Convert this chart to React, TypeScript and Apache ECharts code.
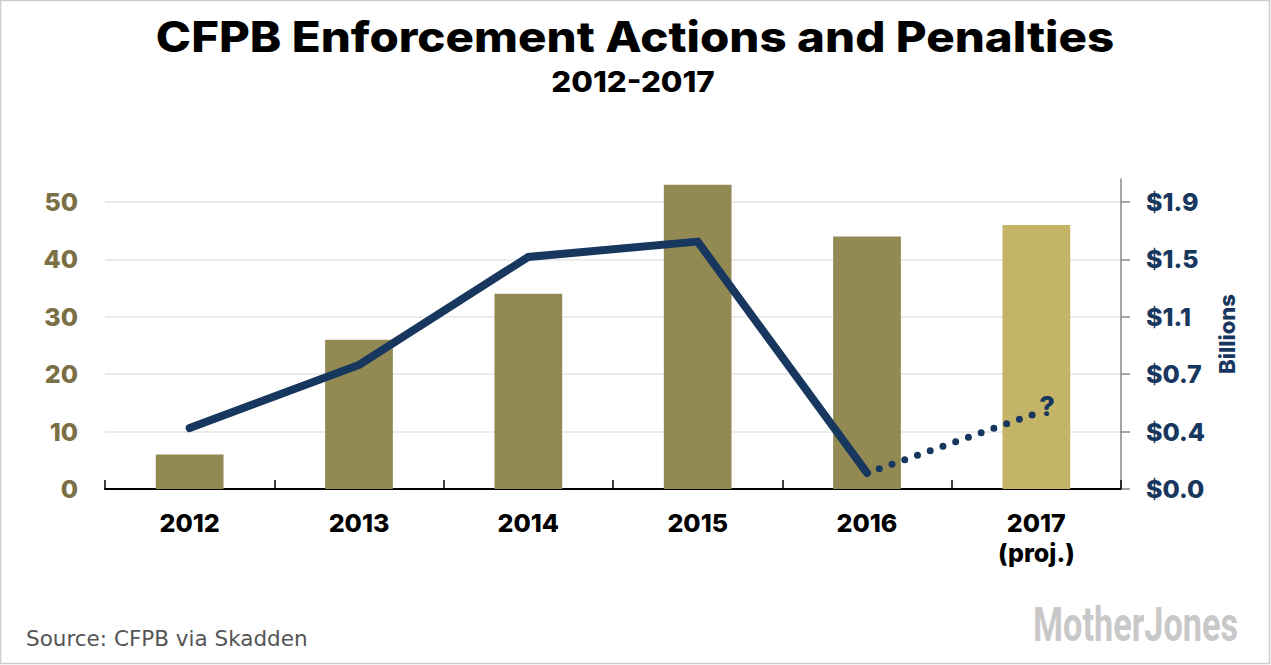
import React, { useEffect, useRef } from "react";
import * as echarts from "echarts";

const categories = ["2012", "2013", "2014", "2015", "2016", "2017\n(proj.)"];
const actions = [6, 26, 34, 53, 44, 46];
const penalties = [0.395, 0.804, 1.504, 1.603, 0.104, null];
const projected = [null, null, null, null, 0.104, 0.49];
const leftTicks = { min: 0, max: 54, interval: 10 };
const rightTicks = { min: 0, max: 2.0088, interval: 0.372 };

const OLIVE = "#938953";
const OLIVE_LIGHT = "#c4b468";
const NAVY = "#17375e";
const FONT = "Inter, Lato, 'Noto Sans', sans-serif";

export default function App() {
  const ref = useRef<HTMLDivElement>(null);
  useEffect(() => {
    if (!ref.current) return;
    const chart = echarts.init(ref.current, undefined, { renderer: "svg" });
    chart.setOption({
      animation: false,
      backgroundColor: "#ffffff",
      grid: { left: 105, right: 150, top: 179, bottom: 176 },
      xAxis: {
        type: "category",
        data: categories,
        axisLine: { show: true, lineStyle: { color: "#000", width: 2 } },
        axisTick: { show: true, inside: true, length: 9, lineStyle: { color: "#000", width: 1.5 } },
        axisLabel: {
          margin: 19,
          fontFamily: FONT,
          fontWeight: 800,
          fontSize: 25,
          color: "#000",
          lineHeight: 30,
        },
      },
      yAxis: [
        {
          type: "value",
          position: "left",
          min: leftTicks.min,
          max: leftTicks.max,
          interval: leftTicks.interval,
          axisLine: { show: false },
          axisTick: { show: false },
          axisLabel: {
            margin: 27,
            showMaxLabel: false,
            fontFamily: FONT,
            fontWeight: 800,
            fontSize: 25,
            color: "#7b6f45",
          },
          splitLine: {
            show: true,
            showMaxLine: false,
            showMinLine: false,
            lineStyle: { color: "#e5e5e5", width: 1.5 },
          },
        },
        {
          type: "value",
          position: "right",
          min: rightTicks.min,
          max: rightTicks.max,
          interval: rightTicks.interval,
          name: "Billions",
          nameLocation: "middle",
          nameRotate: 90,
          nameGap: 95,
          nameTextStyle: { fontFamily: FONT, fontWeight: 800, fontSize: 22, color: NAVY },
          axisLine: { show: true, lineStyle: { color: "#888", width: 1.5 } },
          axisTick: { show: true, inside: false, length: 9, lineStyle: { color: "#888", width: 1.5 } },
          axisLabel: {
            margin: 25,
            showMaxLabel: false,
            fontFamily: FONT,
            fontWeight: 800,
            fontSize: 25,
            color: NAVY,
            formatter: (v: number) => "$" + v.toFixed(1),
          },
          splitLine: { show: false },
        },
      ],
      series: [
        {
          type: "bar",
          yAxisIndex: 0,
          barCategoryGap: "60%",
          data: actions.map((v, i) => ({
            value: v,
            itemStyle: { color: i === actions.length - 1 ? OLIVE_LIGHT : OLIVE },
          })),
          z: 2,
        },
        {
          type: "line",
          yAxisIndex: 1,
          data: penalties,
          showSymbol: false,
          symbol: "none",
          lineStyle: { color: NAVY, width: 8, cap: "round", join: "miter" },
          z: 4,
        },
        {
          type: "line",
          yAxisIndex: 1,
          data: projected,
          showSymbol: false,
          symbol: "none",
          lineStyle: { color: NAVY, width: 7, cap: "round", type: [0, 13.5], dashOffset: -13 },
          endLabel: {
            show: true,
            formatter: () => "?",
            distance: 3,
            offset: [0, -7],
            fontFamily: FONT,
            fontWeight: 800,
            fontSize: 27,
            color: NAVY,
          },
          z: 4,
        },
      ],
      graphic: [
        {
          type: "rect",
          shape: { x: 0.5, y: 0.5, width: 1269, height: 663 },
          style: { fill: "none", stroke: "#cccccc", lineWidth: 1.5 },
          silent: true,
        },
        {
          type: "text",
          x: 635,
          y: 37,
          scaleX: 1.13,
          style: {
            text: "CFPB Enforcement Actions and Penalties",
            font: "800 42px Inter, Lato, sans-serif",
            fill: "#000000",
            textAlign: "center",
            textVerticalAlign: "middle",
          },
        },
        {
          type: "text",
          x: 633,
          y: 81,
          scaleX: 1.08,
          style: {
            text: "2012-2017",
            font: "800 29px Inter, Lato, sans-serif",
            fill: "#000000",
            textAlign: "center",
            textVerticalAlign: "middle",
          },
        },
        {
          type: "text",
          left: 26,
          top: 627,
          style: {
            text: "Source: CFPB via Skadden",
            font: "21.5px 'DejaVu Sans', Verdana, sans-serif",
            fill: "#555555",
          },
        },
        {
          type: "text",
          x: 1033,
          y: 600,
          scaleX: 0.7,
          style: {
            text: "MotherJones",
            font: "bold 49px 'Liberation Sans Narrow', 'Roboto', sans-serif",
            fill: "#c8c8c8",
            letterSpacing: -2,
          },
        },
      ],
    });
    return () => chart.dispose();
  }, []);
  return (
    <div
      ref={ref}
      style={{ position: "absolute", left: 0, top: 0, width: 1271, height: 665 }}
    />
  );
}
